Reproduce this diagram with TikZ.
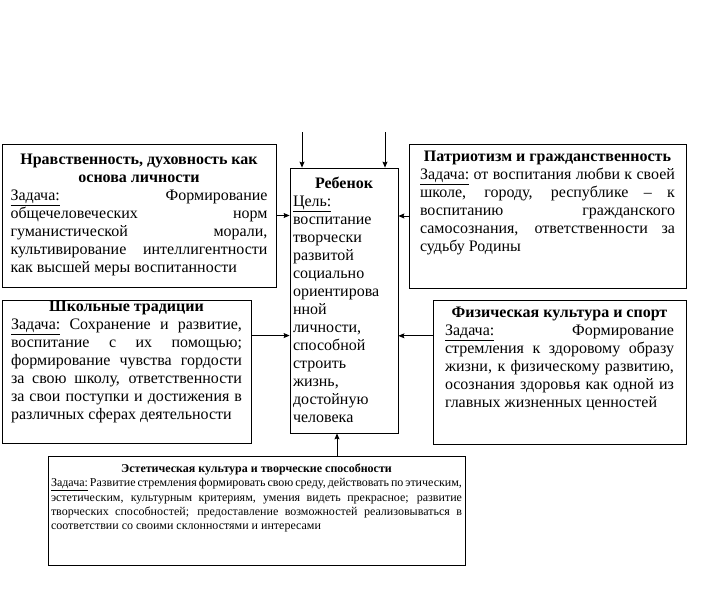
\documentclass[tikz,border=0pt]{standalone}
\usepackage{fontspec}
\setmainfont{Liberation Serif}
\usetikzlibrary{calc,arrows.meta}

\newcommand{\mainsize}{\fontsize{16}{18}\selectfont}
\newcommand{\artsize}{\fontsize{12}{14.3}\selectfont\spaceskip=.25em plus .3em minus .13em}
% block of text with fixed size, filled from the top
\newcommand{\boxtext}[3]{\parbox[c][#2][t]{#1}{\tolerance=10000\hbadness=10000\hyphenpenalty=10000 #3}}

\begin{document}
\begin{tikzpicture}[x=1pt, y=-1pt, >={Stealth[length=6pt,width=5pt,inset=1pt]}, line width=0.8pt,
    card/.style={draw, font=\mainsize}]
    \useasboundingbox (0,0) rectangle (710,589);
    \node[card, inner xsep=3pt, inner ysep=9pt] (child) at (344,300.5) {\boxtext{102pt}{247pt}{%
      {\centering\bfseries Ребенок\par}
      \raggedright\underline{Цель:}\\ воспитание\\ творчески\\ развитой\\ социально\\ ориентирова\\ нной\\ личности,\\ способной\\ строить\\ жизнь,\\ достойную\\ человека}};
    \node[card, inner xsep=8.5pt, inner ysep=10pt] (moral) at (139,215.5) {\boxtext{257pt}{123pt}{%
      {\centering\bfseries Нравственность, духовность как\\ основа личности\par}
      \underline{Задача:} Формирование\linebreak общечеловеческих норм\linebreak гуманистической морали,\linebreak культивирование интеллигентности\linebreak как высшей меры воспитанности}};
    \node[card, inner xsep=11pt, inner ysep=7pt] (patriot) at (547.5,216) {\boxtext{255pt}{130pt}{%
      {\centering\bfseries Патриотизм и гражданственность\par}
      \underline{Задача:} от воспитания любви к своей\linebreak школе, городу, республике~– к\linebreak воспитанию гражданского\linebreak самосознания, ответственности за\linebreak судьбу Родины}};
    \node[card, inner xsep=9pt, inner ysep=1pt] (school) at (126.5,371.5) {\boxtext{231pt}{141pt}{%
      {\centering\bfseries Школьные традиции\par}
      \underline{Задача:} Сохранение и развитие,\linebreak воспитание с их помощью;\linebreak формирование чувства гордости\linebreak за свою школу, ответственности\linebreak за свои поступки и достижения в\linebreak различных сферах деятельности}};
    \node[card, inner xsep=12pt, inner ysep=7pt] (sport) at (559.5,372) {\boxtext{229pt}{130pt}{%
      {\centering\bfseries Физическая культура и спорт\par}
      \underline{Задача:} Формирование\linebreak стремления к здоровому образу\linebreak жизни, к физическому развитию,\linebreak осознания здоровья как одной из\linebreak главных жизненных ценностей}};
    \node[card, font=\artsize, inner xsep=3pt, inner ysep=8pt] (art) at (256.5,510.5) {\boxtext{411pt}{93pt}{%
      {\centering\bfseries Эстетическая культура и творческие способности\par}
      \underline{Задача:} Развитие стремления формировать свою среду, действовать по этическим,\linebreak эстетическим, культурным критериям, умения видеть прекрасное; развитие\linebreak творческих способностей; предоставление возможностей реализовываться в\linebreak соответствии со своими склонностями и интересами}};
    % arrows into the child block
    \coordinate (in1) at (302,132);
    \coordinate (in2) at (385,132);
    \draw[->] (in1) -- (in1 |- child.north);
    \draw[->] (in2) -- (in2 |- child.north);
    \draw[->] (moral) -- (child.west |- moral);
    \draw[->] (patriot) -- (child.east |- patriot);
    \coordinate (sc) at ($(school.north east)!.25!(school.south east)$);
    \coordinate (sp) at ($(sport.north west)!.25!(sport.south west)$);
    \draw[->] (sc) -- (sc -| child.west);
    \draw[->] (sp) -- (sp -| child.east);
    \coordinate (up) at ($(child.south)+(-7,0)$);
    \draw[->] (up |- art.north) -- (up);
\end{tikzpicture}
\end{document}
